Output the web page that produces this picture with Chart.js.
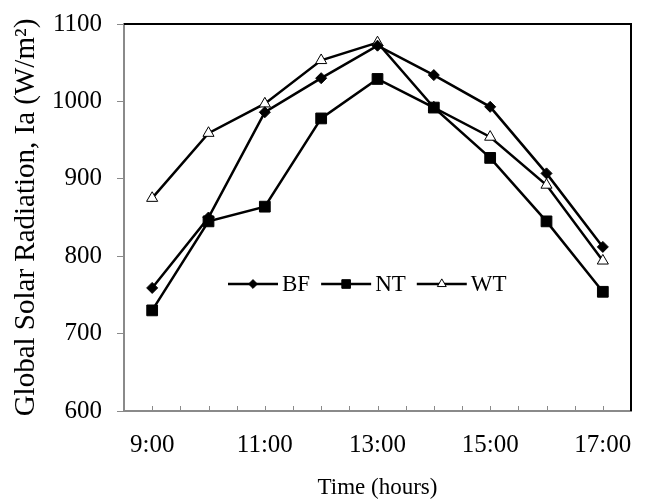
<!DOCTYPE html>
<html>
<head>
<meta charset="utf-8">
<script src="https://cdn.jsdelivr.net/npm/chart.js@4/dist/chart.umd.min.js"></script>
<style>
  html, body { margin: 0; padding: 0; background: #fff; }
  #wrap { width: 646px; height: 499px; }
</style>
</head>
<body>
<div id="wrap"><canvas id="c" width="646" height="499"></canvas></div>
<script>
// ---- data ----
const hours = [9, 10, 11, 12, 13, 14, 15, 16, 17];
const timeLabels = ['9:00','10:00','11:00','12:00','13:00','14:00','15:00','16:00','17:00'];
const tickLabels = ['9:00', '11:00', '13:00', '15:00', '17:00'];
const seriesNames = ['BF', 'NT', 'WT'];
const bfValues = [759, 850, 986, 1030, 1072, 1034, 993, 907, 812];
const ntValues = [730, 845, 864, 978, 1029, 992, 927, 845, 754];
const wtValues = [875, 959, 997, 1053, 1076, 992, 954, 892, 794];
const yTicks = [600, 700, 800, 900, 1000, 1100];

const FONT = "'Liberation Serif', 'Times New Roman', serif";
const AXIS_GRAY = '#8a8a8a';

function pts(vals) { return hours.map((h, i) => ({ x: h, y: vals[i] })); }

const styles = {
  BF: { pointStyle: 'rectRot', radius: 5.5, fill: '#000' },
  NT: { pointStyle: 'rect', radius: 7.6, fill: '#000' },
  WT: { pointStyle: 'triangle', radius: 6.4, fill: '#fff' }
};

function makeDataset(name, vals) {
  const s = styles[name];
  return {
    label: name,
    data: pts(vals),
    borderColor: '#000',
    borderWidth: 2.5,
    pointStyle: s.pointStyle,
    pointRadius: s.radius,
    pointHoverRadius: s.radius,
    pointBackgroundColor: s.fill,
    pointBorderColor: '#000',
    pointBorderWidth: 1,
    tension: 0,
    fill: false
  };
}

function drawMarker(ctx, style, r, x, y, fillCol) {
  ctx.save();
  ctx.beginPath();
  if (style === 'rect') {
    const s = Math.SQRT1_2 * r;
    ctx.rect(x - s, y - s, 2 * s, 2 * s);
  } else if (style === 'rectRot') {
    ctx.moveTo(x, y - r); ctx.lineTo(x + r, y); ctx.lineTo(x, y + r); ctx.lineTo(x - r, y); ctx.closePath();
  } else if (style === 'triangle') {
    ctx.moveTo(x, y - r);
    ctx.lineTo(x + r * Math.sin(2 * Math.PI / 3), y - r * Math.cos(2 * Math.PI / 3));
    ctx.lineTo(x + r * Math.sin(4 * Math.PI / 3), y - r * Math.cos(4 * Math.PI / 3));
    ctx.closePath();
  }
  ctx.fillStyle = fillCol;
  ctx.fill();
  ctx.lineWidth = 1;
  ctx.strokeStyle = '#000';
  ctx.stroke();
  ctx.restore();
}

const framePlugin = {
  id: 'frame',
  beforeDatasetsDraw(chart) {
    const { ctx, chartArea: a, scales } = chart;
    ctx.save();
    // top and right border (black)
    ctx.strokeStyle = '#000';
    ctx.lineWidth = 2;
    ctx.beginPath();
    ctx.moveTo(a.left, a.top);
    ctx.lineTo(a.right, a.top);
    ctx.lineTo(a.right, a.bottom);
    ctx.stroke();
    // inward tick marks on x axis
    const xs = scales.x;
    ctx.strokeStyle = AXIS_GRAY;
    ctx.lineWidth = 1;
    xs.ticks.forEach(t => {
      if (t.value <= xs.min || t.value >= xs.max) return;
      const px = Math.round(xs.getPixelForValue(t.value)) + 0.5;
      ctx.beginPath();
      ctx.moveTo(px, a.bottom);
      ctx.lineTo(px, a.bottom - 5);
      ctx.stroke();
    });
    ctx.restore();
  },
  afterDatasetsDraw(chart) {
    const { ctx, chartArea: a } = chart;
    ctx.save();
    ctx.font = '23px ' + FONT;
    ctx.textBaseline = 'middle';
    ctx.fillStyle = '#000';
    const y = a.top + 260;
    let x = a.left + 104;
    seriesNames.forEach(name => {
      const s = styles[name];
      ctx.strokeStyle = '#000';
      ctx.lineWidth = 2.5;
      ctx.beginPath();
      ctx.moveTo(x, y);
      ctx.lineTo(x + 50, y);
      ctx.stroke();
      drawMarker(ctx, s.pointStyle, s.radius * 0.8, x + 25, y, s.fill);
      ctx.fillText(name, x + 54, y + 1);
      x += 54 + ctx.measureText(name).width + 11;
    });
    ctx.restore();
  }
};

new Chart(document.getElementById('c'), {
  type: 'line',
  data: {
    datasets: [
      makeDataset('BF', bfValues),
      makeDataset('NT', ntValues),
      makeDataset('WT', wtValues)
    ]
  },
  options: {
    responsive: false,
    animation: false,
    devicePixelRatio: 1,
    layout: { padding: { top: 24, right: 15, left: 0, bottom: 0 } },
    plugins: {
      legend: { display: false },
      tooltip: { enabled: false },
      title: { display: false }
    },
    scales: {
      x: {
        type: 'linear',
        min: 8.5,
        max: 17.5,
        afterFit(scale) { scale.height = 88; scale.paddingLeft = 0; scale.paddingRight = 0; },
        ticks: {
          stepSize: 0.5,
          autoSkip: false,
          maxRotation: 0,
          padding: 19,
          color: '#000',
          font: { family: FONT, size: 25 },
          callback(v) {
            const lab = Number.isInteger(v) ? v + ':00' : '';
            return tickLabels.includes(lab) ? lab : '';
          }
        },
        grid: { drawOnChartArea: false, drawTicks: false },
        border: { color: AXIS_GRAY, width: 2 },
        title: {
          display: true,
          text: 'Time (hours)',
          color: '#000',
          font: { family: FONT, size: 23, lineHeight: 1 },
          padding: { top: 0, bottom: 0 }
        }
      },
      y: {
        min: 600,
        max: 1100,
        afterFit(scale) { scale.width = 124; scale.paddingTop = 0; scale.paddingBottom = 0; },
        afterBuildTicks(scale) { scale.ticks = yTicks.map(v => ({ value: v })); },
        ticks: {
          padding: 15,
          color: '#000',
          font: { family: FONT, size: 25 },
          callback(v) { return String(v); }
        },
        grid: { drawOnChartArea: false, drawTicks: true, tickLength: 7, color: AXIS_GRAY, tickWidth: 1 },
        border: { color: AXIS_GRAY, width: 2 },
        title: {
          display: true,
          text: 'Global Solar Radiation, Ia (W/m²)',
          color: '#000',
          font: { family: FONT, size: 29, lineHeight: 1.2 },
          padding: { top: 9, bottom: 0 }
        }
      }
    }
  },
  plugins: [framePlugin]
});
</script>
</body>
</html>
